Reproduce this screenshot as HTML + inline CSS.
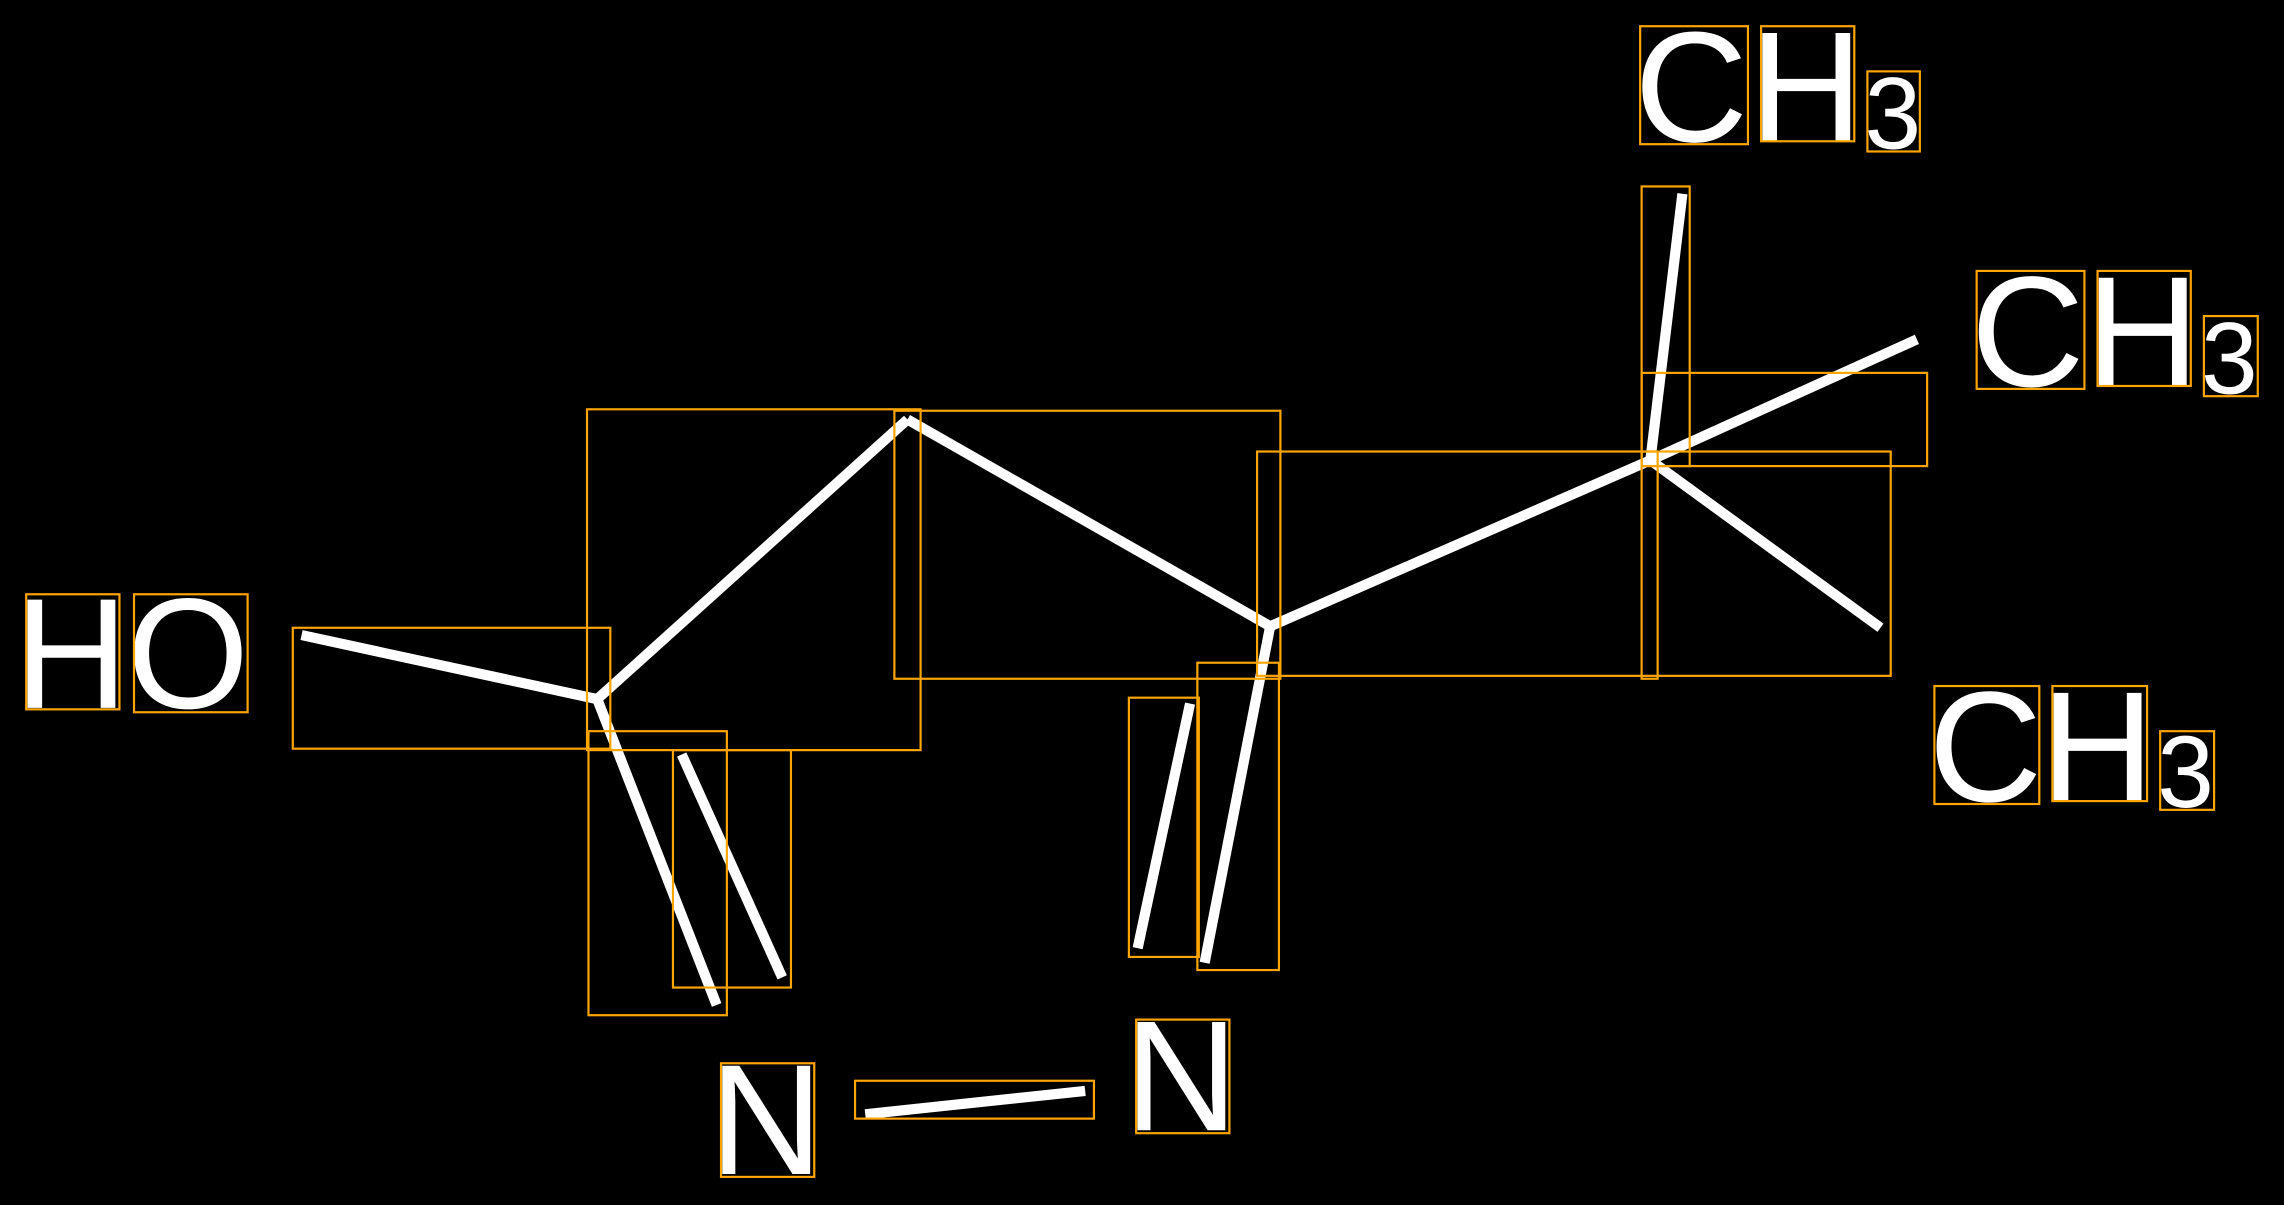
<!DOCTYPE html>
<html><head><meta charset="utf-8"><style>
html,body{margin:0;padding:0;background:#000;}
svg{display:block;}
text{font-family:"Liberation Sans",sans-serif;fill:#fff;}
</style></head><body>
<svg width="2284" height="1205" viewBox="0 0 1568 827.3" preserveAspectRatio="none" xmlns="http://www.w3.org/2000/svg">
<rect x="0" y="0" width="1568" height="827.3" fill="#000"/>
<g stroke="#fff" stroke-width="7" stroke-linecap="butt">
<line x1="207" y1="436" x2="410" y2="480"/>
<line x1="410" y1="480" x2="623" y2="288"/>
<line x1="623" y1="288" x2="872" y2="430"/>
<line x1="872" y1="430" x2="1133" y2="316"/>
<line x1="1133" y1="316" x2="1155" y2="133"/>
<line x1="1133" y1="316" x2="1316" y2="233"/>
<line x1="1133" y1="316" x2="1291" y2="431"/>
<line x1="410" y1="480" x2="492" y2="690"/>
<line x1="468" y1="518" x2="537" y2="671"/>
<line x1="817" y1="483" x2="781" y2="651"/>
<line x1="872" y1="430" x2="827" y2="661"/>
<line x1="594" y1="765" x2="745" y2="749"/>
</g>
<g font-size="108">
<text x="1122" y="97">C</text><text x="1201" y="97">H</text>
<text x="1353" y="265">C</text><text x="1432" y="265">H</text>
<text x="1324" y="550">C</text><text x="1401" y="550">H</text>
<text x="10" y="486">H</text><text x="87" y="486">O</text>
<text x="487" y="806">N</text><text x="772" y="776">N</text>
</g>
<g font-size="70">
<text x="1280" y="102">3</text>
<text x="1511" y="270">3</text>
<text x="1481" y="554">3</text>
</g>
<g fill="none" stroke="#FFA500" stroke-width="1.5">
<rect x="1126" y="18" width="74" height="81"/><rect x="1209" y="18" width="64" height="79"/><rect x="1282" y="49" width="36" height="55"/>
<rect x="1357" y="186" width="74" height="81"/><rect x="1440" y="186" width="64" height="79"/><rect x="1513" y="217" width="37" height="55"/>
<rect x="1328" y="471" width="72" height="81"/><rect x="1409" y="471" width="65" height="79"/><rect x="1483" y="502" width="37" height="54"/>
<rect x="18" y="408" width="64" height="79"/><rect x="92" y="408" width="78" height="81"/>
<rect x="495" y="730" width="64" height="78"/><rect x="780" y="700" width="64" height="78"/>
<rect x="201" y="431" width="218" height="83"/>
<rect x="403" y="281" width="229" height="234"/>
<rect x="614" y="282" width="265" height="184"/>
<rect x="863" y="310" width="435" height="154"/>
<rect x="1127" y="128" width="33" height="192"/>
<rect x="1127" y="256" width="196" height="64"/>
<rect x="1127" y="310" width="11" height="156"/>
<rect x="404" y="502" width="95" height="195"/>
<rect x="462" y="515" width="81" height="163"/>
<rect x="775" y="479" width="48" height="178"/>
<rect x="822" y="455" width="56" height="211"/>
<rect x="587" y="742" width="164" height="26"/>
</g>
</svg>
</body></html>
